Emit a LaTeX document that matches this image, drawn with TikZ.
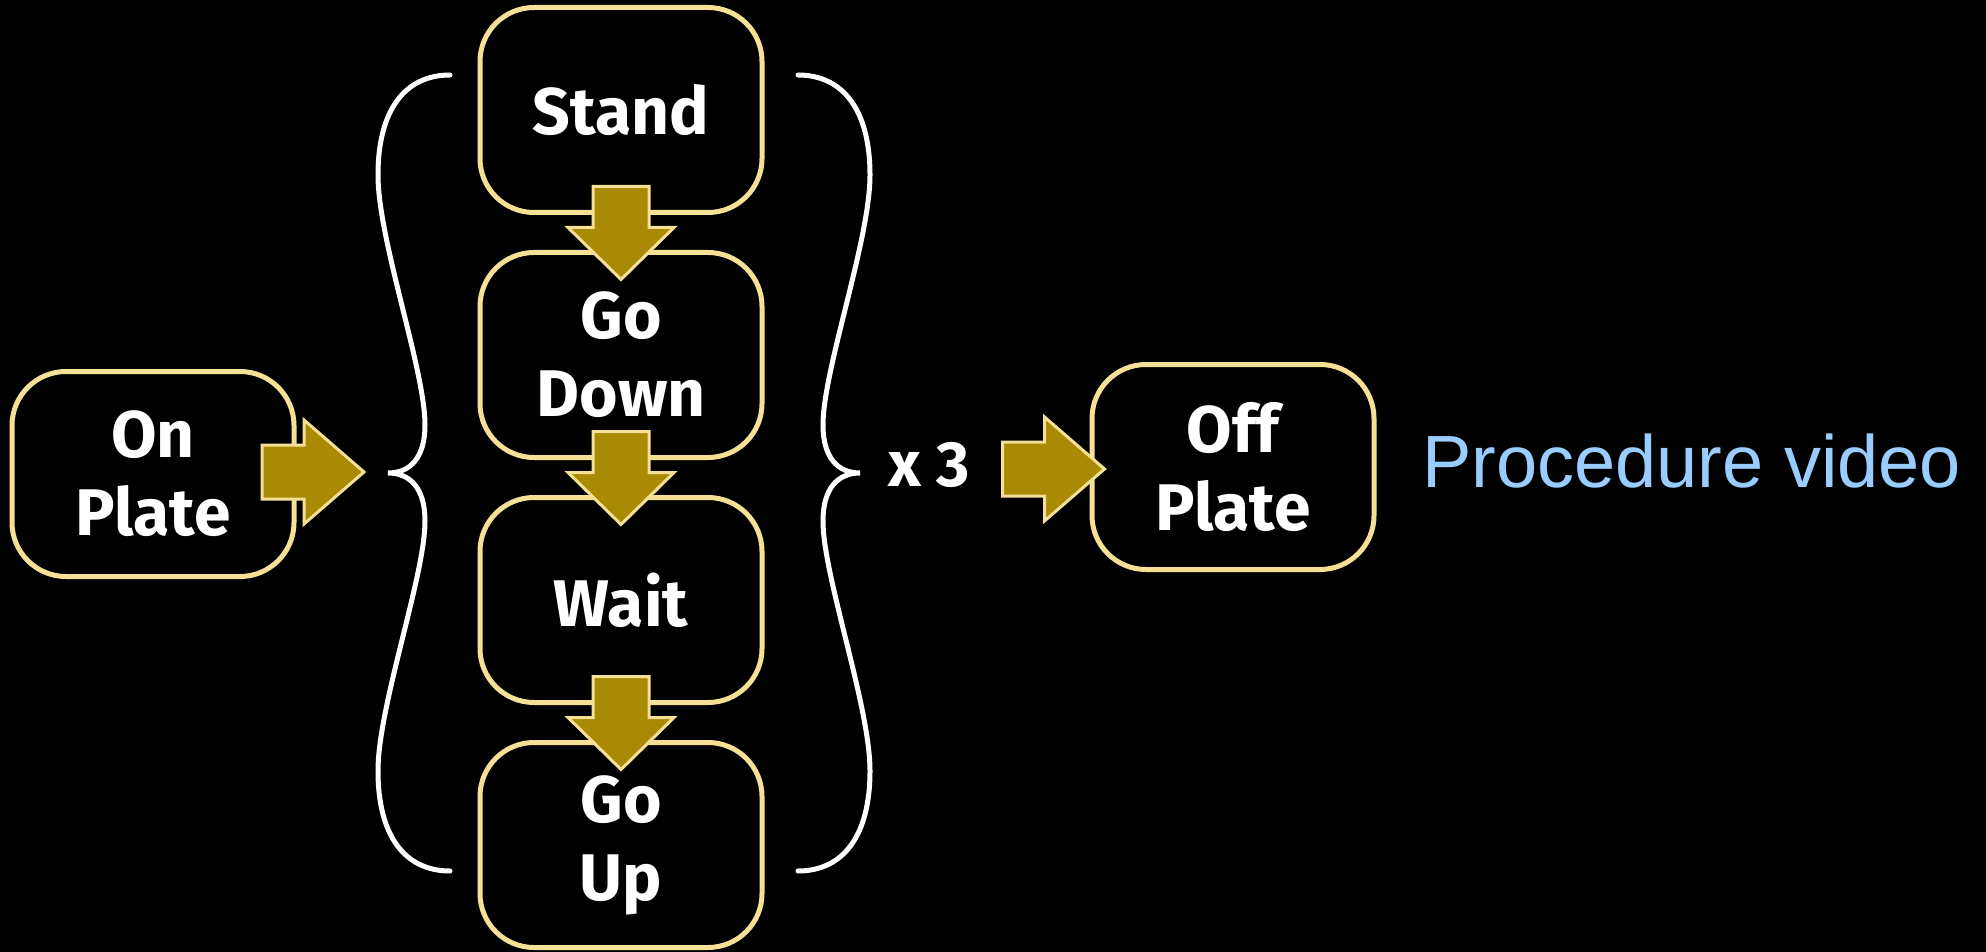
\documentclass[tikz,border=0pt]{standalone}
\usepackage{fontspec}
\setmainfont{Fira Sans}
\newfontfamily\procfont{Liberation Sans}
\usetikzlibrary{calc}
\definecolor{boxline}{RGB}{245,224,150}
\definecolor{gold}{RGB}{168,138,4}
\definecolor{proc}{RGB}{153,204,255}
\begin{document}
\begin{tikzpicture}[x=0.5pt,y=-0.5pt,
 stepbox/.style={draw=boxline, line width=2.5pt, rounded corners=27pt, fill=black,
   minimum width=141pt, minimum height=102.5pt, text=white,
   font=\bfseries\fontsize{33}{39}\selectfont, align=center, inner sep=0pt},
 blockarrow/.style={fill=gold, draw=boxline, line width=1.5pt, line join=miter},
 bracestyle/.style={draw=white, line width=2.5pt, line cap=round},
 pics/downarrow/.style={code={\draw[blockarrow] (-28,-46) -- (28,-46) -- (28,-5) -- (53,-5) -- (0,47) -- (-53,-5) -- (-28,-5) -- cycle;}},
 pics/rightarrow/.style={code={\draw[blockarrow] (-51,-27) -- (-9,-27) -- (-9,-52) -- (51,0) -- (-9,52) -- (-9,27) -- (-51,27) -- cycle;}},
]
\fill[black] (0,0) rectangle (1986,952);
\useasboundingbox (0,0) rectangle (1986,952);

\node[stepbox] (onplate) at (153,474) {On\\Plate};
\node[stepbox] (stand) at (621,110) {Stand};
\node[stepbox] (godown) at (621,355) {Go\\Down};
\node[stepbox] (wait) at (621,600) {Wait};
\node[stepbox] (goup) at (621,845) {Go\\Up};
\node[stepbox] (offplate) at (1233,467) {Off\\Plate};

\node[text=white, font=\bfseries\fontsize{32}{38}\selectfont] (times) at (929,465) {x 3};
\node[text=proc, font=\procfont\fontsize{37}{44}\selectfont, anchor=base west, inner sep=0pt] (proc) at (1422,487) {Procedure video};

% braces
\draw[bracestyle] (450,75) .. controls (405,75) and (378,110) .. (378,175)
  .. controls (378,240) and (425,370) .. (425,425)
  .. controls (425,458) and (410,473) .. (388,473)
  .. controls (410,473) and (425,488) .. (425,521)
  .. controls (425,576) and (378,706) .. (378,771)
  .. controls (378,836) and (405,871) .. (450,871);
\draw[bracestyle] (798,75) .. controls (843,75) and (870,110) .. (870,175)
  .. controls (870,240) and (823,370) .. (823,425)
  .. controls (823,458) and (838,473) .. (860,473)
  .. controls (838,473) and (823,488) .. (823,521)
  .. controls (823,576) and (870,706) .. (870,771)
  .. controls (870,836) and (843,871) .. (798,871);

% arrows
\coordinate (g1) at ($(stand.south)!0.5!(godown.north)$);
\coordinate (g2) at ($(godown.south)!0.5!(wait.north)$);
\coordinate (g3) at ($(wait.south)!0.5!(goup.north)$);
\coordinate (a1) at ($(onplate.east)+(16.5,-2)$);
\coordinate (a2) at ($(offplate.west)+(-36,2)$);
\pic at (g1) {downarrow};
\pic at (g2) {downarrow};
\pic at (g3) {downarrow};
\pic at (a1) {rightarrow};
\pic at (a2) {rightarrow};
\end{tikzpicture}
\end{document}
